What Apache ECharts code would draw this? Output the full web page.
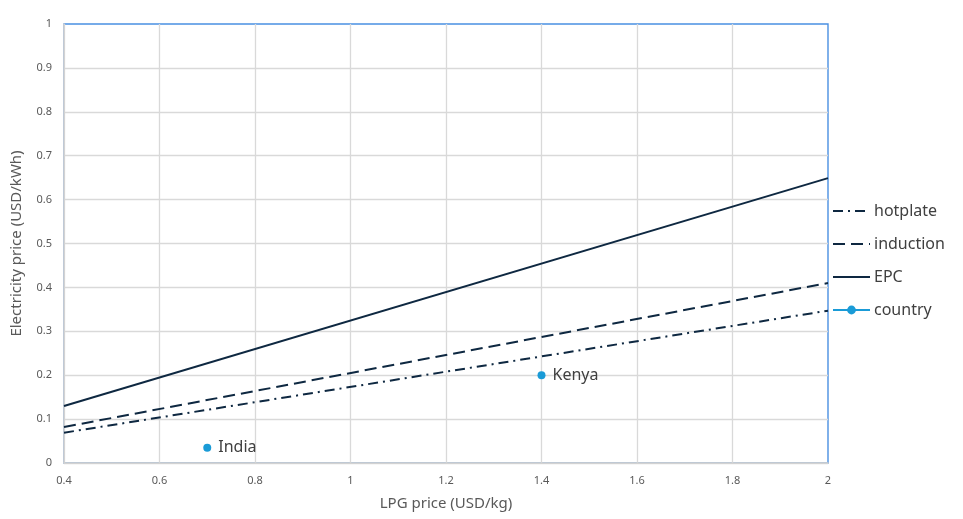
<!DOCTYPE html>
<html>
<head>
<meta charset="utf-8">
<script src="https://cdn.jsdelivr.net/npm/echarts@6/dist/echarts.min.js"></script>
<style>
html,body{margin:0;padding:0;background:#fff;}
#main{width:963px;height:519px;}
</style>
</head>
<body>
<div id="main"></div>
<script>
// line endpoints (x = LPG price, y = electricity price)
var lpgEnds = [0.4, 2];
var hotplateVals = [0.069, 0.347];
var inductionVals = [0.082, 0.41];
var epcVals = [0.13, 0.649];
// countries
var countryNames = ['India', 'Kenya'];
var countryLpg = [0.7, 1.4];
var countryElec = [0.035, 0.2];

var lineColor = '#0e2841';
var dotColor = '#1a9bd7';

function pairs(xs, ys){
	var out = [];
	for (var i = 0; i < xs.length; i++) out.push([xs[i], ys[i]]);
	return out;
}

var countryData = [];
for (var i = 0; i < countryNames.length; i++) {
	countryData.push({value:[countryLpg[i], countryElec[i]], name:countryNames[i]});
}

var myChart = echarts.init(document.getElementById('main'));
var option = {
	animation:false,
	textStyle:{fontFamily:'Noto Sans'},
	grid:{left:64, right:135, top:24, bottom:56, show:true, borderColor:'#4a90e2', borderWidth:1.4},
	legend:{
		orient:'vertical',
		left:827, top:198,
		itemWidth:37, itemHeight:11, itemGap:17,
		textStyle:{fontSize:16, color:'#404040', padding:[0,0,0,-1]},
		data:[
			{name:'hotplate', itemStyle:{opacity:0}},
			{name:'induction', itemStyle:{opacity:0}},
			{name:'EPC', itemStyle:{opacity:0}},
			{name:'country', lineStyle:{color:dotColor, width:2, opacity:1, type:'solid'}}
		]
	},
	xAxis:{
		type:'value', min:0.4, max:2, interval:0.2,
		name:'LPG price (USD/kg)', nameLocation:'middle', nameGap:33,
		nameTextStyle:{fontSize:15, color:'#595959'},
		axisLine:{show:true, lineStyle:{color:'#d0d0d0', width:1.5}},
		axisTick:{show:false},
		axisLabel:{fontSize:11, color:'#595959', margin:12, formatter:function(v){return +v.toFixed(1);}},
		splitLine:{showMaxLine:false, lineStyle:{color:'#d9d9d9', width:1.3}}
	},
	yAxis:{
		type:'value', min:0, max:1, interval:0.1,
		name:'Electricity price (USD/kWh)', nameLocation:'middle', nameGap:40,
		nameTextStyle:{fontSize:15, color:'#595959'},
		axisLine:{show:true, lineStyle:{color:'#d0d0d0', width:1.5}},
		axisTick:{show:false},
		axisLabel:{fontSize:11, color:'#595959', margin:12, formatter:function(v){return +v.toFixed(1);}},
		splitLine:{showMaxLine:false, lineStyle:{color:'#d9d9d9', width:1.3}}
	},
	series:[
		{name:'hotplate', type:'line', data:pairs(lpgEnds, hotplateVals), symbol:'none',
			itemStyle:{color:lineColor}, lineStyle:{color:lineColor, width:2, type:[10,5,2,5]}},
		{name:'induction', type:'line', data:pairs(lpgEnds, inductionVals), symbol:'none',
			itemStyle:{color:lineColor}, lineStyle:{color:lineColor, width:2, type:[12,6]}},
		{name:'EPC', type:'line', data:pairs(lpgEnds, epcVals), symbol:'none',
			itemStyle:{color:lineColor}, lineStyle:{color:lineColor, width:2}},
		{name:'country', type:'line', data:countryData, symbol:'circle', symbolSize:8,
			itemStyle:{color:dotColor}, lineStyle:{width:0, opacity:0},
			label:{show:true, position:'right', distance:7, formatter:'{b}', fontSize:16, color:'#404040'}}
	]
};
myChart.setOption(option);
</script>
</body>
</html>
